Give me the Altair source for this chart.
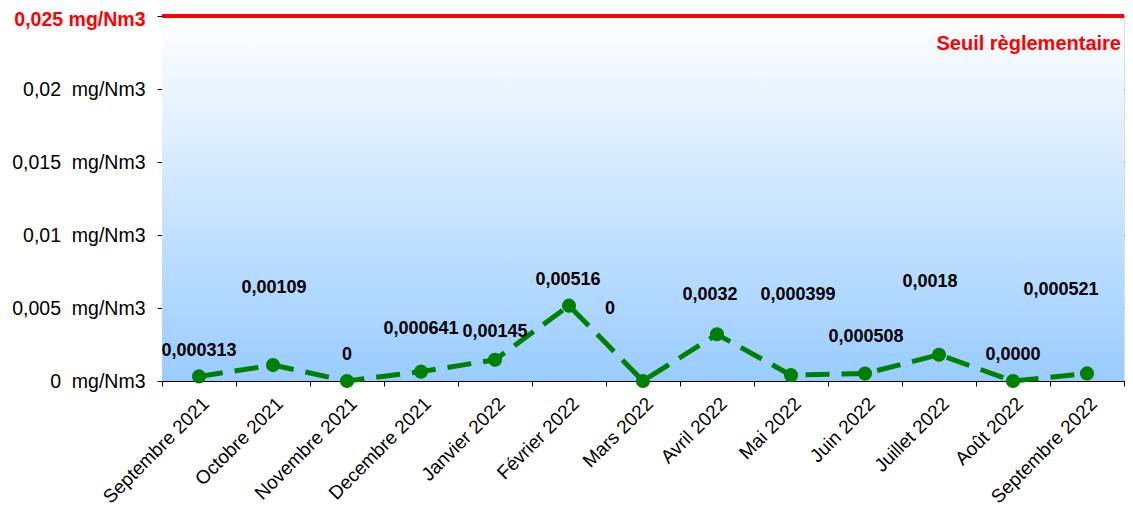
import altair as alt
import pandas as pd

months = ["Septembre 2021", "Octobre 2021", "Novembre 2021", "Decembre 2021",
          "Janvier 2022", "Février 2022", "Mars 2022", "Avril 2022", "Mai 2022",
          "Juin 2022", "Juillet 2022", "Août 2022", "Septembre 2022"]
values = [0.000313, 0.00109, 0.0, 0.000641, 0.00145, 0.00516, 0.0, 0.0032,
          0.000399, 0.000508, 0.0018, 0.0, 0.000521]
labels = ["0,000313", "0,00109", "0", "0,000641", "0,00145", "0,00516", "0",
          "0,0032", "0,000399", "0,000508", "0,0018", "0,0000", "0,000521"]
# label placement (data units) and horizontal shift of each data label
label_y = [0.00206, 0.00637, 0.00178, 0.00356, 0.00336, 0.00692, 0.00493,
           0.00589, 0.00589, 0.00301, 0.00678, 0.00178, 0.00623]
label_dx = [0, 1, 0, 0, 0, -1, -33, -7, 7, 1, -9, 0, -26]
y_ticks = [0, 0.005, 0.01, 0.015, 0.02, 0.025]
threshold = 0.025
threshold_label = "Seuil règlementaire"

W, H = 962, 365
half_band = W / len(months) / 2

df = pd.DataFrame({"month": months, "value": values, "label": labels,
                   "ly": label_y, "dx": label_dx})

FONT = "Liberation Sans"
NB = "\u00a0"

xscale = alt.Scale(type="band", paddingInner=0, paddingOuter=0)
yscale = alt.Scale(domain=[0, threshold], nice=False, zero=True)

xenc = alt.X("month:N", sort=months, scale=xscale, title=None,
             axis=alt.Axis(labelAngle=-45, labelFontSize=19, labelFont=FONT,
                           labelColor="black", tickBand="extent", tickSize=5,
                           tickColor="black", domainColor="black", labelPadding=8,
                           grid=False, labelOverlap=False))

label_expr = ("datum.value >= 0.025 ? '0,025" + NB + "mg/Nm3' : "
              "replace(format(datum.value, '~g'), '.', ',') + '" + NB + NB + "mg/Nm3'")

is_top = "datum.value >= 0.025"
yenc = alt.Y("value:Q", scale=yscale, title=None,
             axis=alt.Axis(values=y_ticks, labelExpr=label_expr, labelFontSize=19.5,
                           labelFont=FONT,
                           labelColor={"condition": {"test": is_top, "value": "#FF0000"}, "value": "black"},
                           labelFontWeight={"condition": {"test": is_top, "value": "bold"}, "value": "normal"},
                           labelOffset={"condition": {"test": is_top, "value": 3}, "value": 0},
                           tickSize=5, tickColor="black", domainColor="black",
                           gridColor="#444444", gridWidth=1, labelPadding=12))

base = alt.Chart(df)

bg = base.mark_rect(
    color=alt.Gradient(gradient="linear",
                       stops=[alt.GradientStop(color="#FFFFFF", offset=0),
                              alt.GradientStop(color="#99CCFF", offset=1)],
                       x1=0, x2=0, y1=0, y2=1)
).encode(x=alt.value(0), x2=alt.value("width"), y=alt.value(0), y2=alt.value("height"))

line = base.mark_line(color="#008000", strokeWidth=5, strokeDash=[24, 12]).encode(x=xenc, y=yenc)
pts = base.mark_circle(color="#008000", size=200, opacity=1).encode(x=xenc, y=yenc)

txt = base.transform_calculate(off=f"datum.dx + {half_band}").mark_text(
    fontSize=18, fontWeight="bold", font=FONT, color="black", baseline="middle").encode(
    x=alt.X("month:N", sort=months, scale=xscale),
    xOffset=alt.XOffset("off:Q", scale=None),
    y=alt.Y("ly:Q", scale=yscale),
    text="label:N")

rule = alt.Chart(pd.DataFrame({"t": [threshold]})).mark_rule(color="#FF0000", strokeWidth=4).encode(
    y=alt.Y("t:Q", scale=yscale))

seuil = alt.Chart(pd.DataFrame({"t": [threshold_label], "y": [0.0231]})).mark_text(
    color="#FF0000", fontWeight="bold", fontSize=20, font=FONT, align="right",
    baseline="middle", dx=-3).encode(x=alt.value("width"), y=alt.Y("y:Q", scale=yscale), text="t:N")

chart = alt.layer(bg, line, pts, txt, rule, seuil).properties(
    width=W, height=H,
    autosize=alt.AutoSizeParams(type="none"),
    padding={"left": 154, "top": 8, "right": 1, "bottom": 132},
).configure_view(stroke="#888888", strokeWidth=1).configure(background="white")

chart.save("out.html", embed_options={"renderer": "svg", "actions": False})
